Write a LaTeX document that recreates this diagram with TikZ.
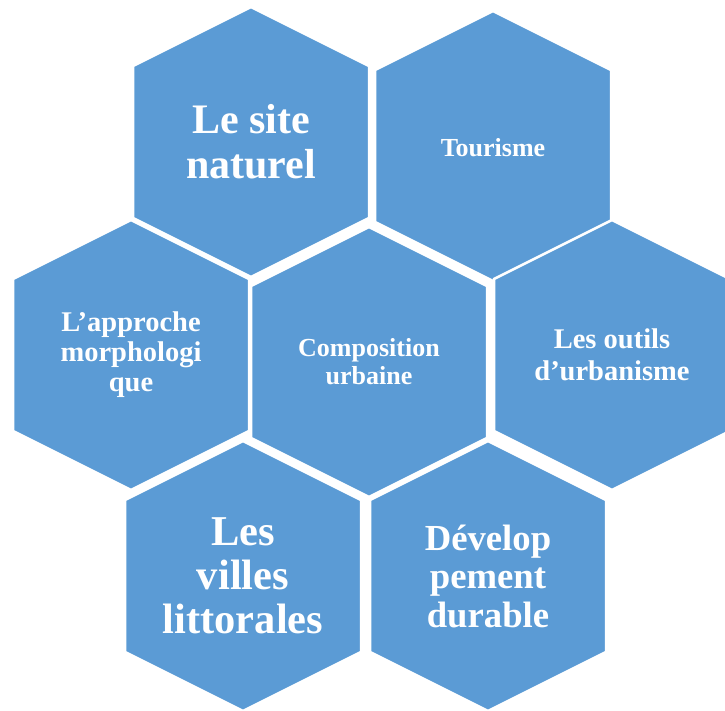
\documentclass[tikz,border=0pt]{standalone}
\usepackage{fontspec}
\setmainfont{Liberation Serif}
\definecolor{hexblue}{RGB}{91,155,213}
\tikzset{
  hexcell/.style={fill=hexblue, draw=white, line width=2.5pt},
  hexlabel/.style 2 args={text=white, align=center, inner sep=0pt,
    font=\fontsize{#1}{#2}\selectfont\bfseries}
}

\begin{document}
\begin{tikzpicture}[x=1pt,y=-1pt]
  \useasboundingbox (0,0) rectangle (725,711);
  \clip (0,0) rectangle (725,711);
  % the seven cells
  \foreach \x/\y in {251/142,493/146,131/355,369/362,612/355,243/576,488/576}
    \filldraw[hexcell] (\x,\y-135) -- (\x+118,\y-76) -- (\x+118,\y+76)
      -- (\x,\y+135) -- (\x-118,\y+76) -- (\x-118,\y-76) -- cycle;
  % labels
  \node[hexlabel={42}{45}] (site) at (251,142) {Le site\\naturel};
  \node[hexlabel={26}{30}] (tourisme) at (493,148) {Tourisme};
  \node[hexlabel={28.5}{30}] (approche) at (131,355) {L’approche\\morphologi\\que};
  \node[hexlabel={26}{28}] (compo) at (369,362) {Composition\\urbaine};
  \node[hexlabel={28.5}{31.5}] (outils) at (612,355) {Les outils\\d’urbanisme};
  \node[hexlabel={42.5}{44}] (villes) at (243,576) {Les\\villes\\littorales};
  \node[hexlabel={36.7}{38.5}] (durable) at (488,576) {Dévelop\\pement\\durable};
\end{tikzpicture}
\end{document}
